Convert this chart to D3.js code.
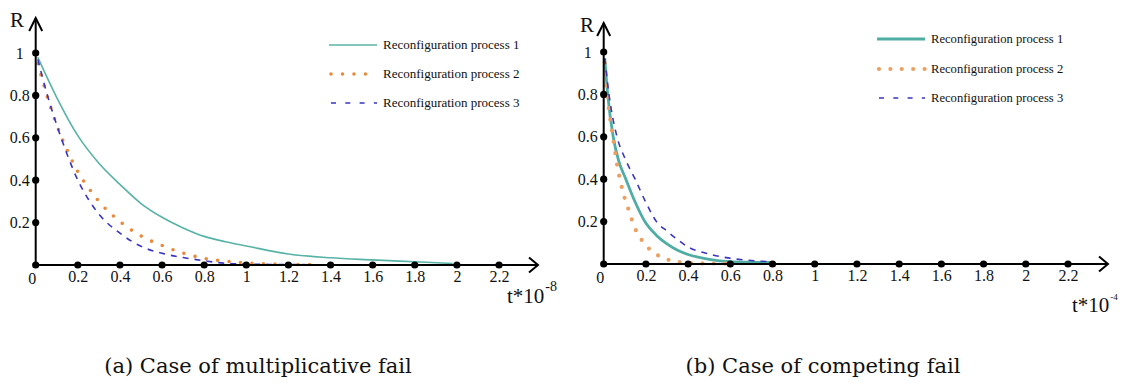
<!DOCTYPE html>
<html><head><meta charset="utf-8">
<script src="https://cdn.jsdelivr.net/npm/d3@7"></script>
<style>
html,body{margin:0;padding:0;background:#fff;}
svg{display:block;}
</style></head>
<body>
<svg id="chart" width="1127" height="385"></svg>
<script>
// ---------- data ----------
const seriesNames = ["Reconfiguration process 1","Reconfiguration process 2","Reconfiguration process 3"];
const xTicks = [0,0.2,0.4,0.6,0.8,1,1.2,1.4,1.6,1.8,2,2.2];
const xTickLabels = ["0","0.2","0.4","0.6","0.8","1","1.2","1.4","1.6","1.8","2","2.2"];
const yTicks = [0.2,0.4,0.6,0.8,1];
const yTickLabels = ["0.2","0.4","0.6","0.8","1"];
const captions = ["(a)  Case of multiplicative fail","(b)  Case of competing fail"];

// (a) multiplicative fail, t in units of 1e-8
const aP1x = [0.01,0.1,0.2,0.3,0.4,0.5,0.6,0.7,0.8,0.9,1.0,1.2,1.4,1.6,1.8,1.98];
const aP1y = [0.98,0.79,0.61,0.48,0.38,0.29,0.225,0.175,0.135,0.11,0.09,0.052,0.034,0.024,0.015,0.007];
const aP2x = [0.01,0.05,0.1,0.15,0.2,0.25,0.3,0.4,0.5,0.6,0.7,0.8,0.9,1.0,1.1,1.2,1.33];
const aP2y = [0.95,0.81,0.66,0.54,0.44,0.365,0.30,0.205,0.137,0.092,0.056,0.031,0.018,0.01,0.005,0.003,0.002];
const aP3x = [0.01,0.05,0.1,0.15,0.2,0.25,0.3,0.4,0.5,0.6,0.7,0.8,0.9,1.0,1.2,1.4];
const aP3y = [0.97,0.82,0.66,0.52,0.40,0.31,0.24,0.15,0.088,0.055,0.035,0.02,0.008,0.004,0.002,0.001];

// (b) competing fail, t in units of 1e-4
const bP1x = [0.005,0.019,0.045,0.07,0.105,0.15,0.195,0.25,0.3,0.35,0.4,0.5,0.6,0.7,0.8];
const bP1y = [0.97,0.8,0.6,0.49,0.4,0.29,0.2,0.135,0.095,0.065,0.045,0.022,0.011,0.008,0.007];
const bP2x = [0.005,0.015,0.03,0.045,0.065,0.09,0.12,0.15,0.19,0.25,0.3,0.35,0.45,0.6];
const bP2y = [0.95,0.82,0.69,0.59,0.46,0.345,0.25,0.165,0.10,0.045,0.022,0.01,0.003,0.002];
const bP3x = [0.005,0.025,0.063,0.1,0.149,0.2,0.25,0.3,0.35,0.4,0.48,0.58,0.68,0.8];
const bP3y = [0.97,0.8,0.6,0.5,0.4,0.29,0.2,0.155,0.115,0.08,0.052,0.03,0.018,0.01];

// ---------- layout ----------
const SERIF = "'Liberation Serif','Times New Roman',Times,'Nimbus Roman',serif";
const panels = [
  {x0:35.7, x1:499, y0:265, y1:53, arrowX:538, arrowY:18, expo:"-8",
   series:[[aP1x,aP1y],[aP2x,aP2y],[aP3x,aP3y]],
   teal:{w:1.6,c:"#58b3a6"}, orange:{c:"#e8893c",w:3.6,gap:11.5}, blue:{c:"#3a35c2",w:1.6},
   legX:329, legY:[45,74,103], legFont:13,
   rX:17, rY:27, xlabX:507, xlabY:303, supDx:1, supDy:-12, supSize:14,
   caption:{x:258,y:373}},
  {x0:603.7, x1:1068, y0:264, y1:52, arrowX:1108, arrowY:23, expo:"-4",
   series:[[bP1x,bP1y],[bP2x,bP2y],[bP3x,bP3y]],
   teal:{w:2.8,c:"#4fada3"}, orange:{c:"#eba060",w:4.2,gap:11.4}, blue:{c:"#3a35c2",w:1.6},
   legX:877, legY:[39,69,98], legFont:12.6,
   rX:587, rY:32, xlabX:1072, xlabY:312, supDx:1, supDy:-12, supSize:9,
   caption:{x:823,y:373}}
];

const svg = d3.select("#chart");

panels.forEach((p,pi)=>{
  const x = d3.scaleLinear().domain([0,2.2]).range([p.x0,p.x1]);
  const y = d3.scaleLinear().domain([0,1]).range([p.y0,p.y1]);
  const g = svg.append("g");

  // curves
  const line = d3.line().x(d=>x(d[0])).y(d=>y(d[1])).curve(d3.curveMonotoneX);
  const styles = [
    {stroke:p.teal.c, w:p.teal.w, dash:null, cap:"butt"},
    {stroke:p.orange.c, w:p.orange.w, dash:"0,"+p.orange.gap, cap:"round"},
    {stroke:p.blue.c, w:p.blue.w, dash:"6,6", cap:"butt"}
  ];
  p.series.forEach((s,i)=>{
    const pts = s[0].map((v,k)=>[v,s[1][k]]);
    g.append("path").attr("d",line(pts)).attr("fill","none")
      .attr("stroke",styles[i].stroke).attr("stroke-width",styles[i].w)
      .attr("stroke-dasharray",styles[i].dash).attr("stroke-linecap",styles[i].cap);
  });

  // axes lines
  g.append("line").attr("x1",x(0)).attr("x2",p.arrowX).attr("y1",y(0)).attr("y2",y(0))
    .attr("stroke","#000").attr("stroke-width",2);
  g.append("line").attr("x1",x(0)).attr("x2",x(0)).attr("y1",y(0)).attr("y2",p.arrowY)
    .attr("stroke","#000").attr("stroke-width",2);
  // arrowheads
  g.append("path").attr("d",`M${p.arrowX-9},${y(0)-7.5}L${p.arrowX},${y(0)}L${p.arrowX-9},${y(0)+7.5}`)
    .attr("fill","none").attr("stroke","#000").attr("stroke-width",2);
  g.append("path").attr("d",`M${x(0)-6.5},${p.arrowY+13}L${x(0)},${p.arrowY}L${x(0)+6.5},${p.arrowY+13}`)
    .attr("fill","none").attr("stroke","#000").attr("stroke-width",2);

  // x tick labels via axis
  const xAxis = d3.axisBottom(x).tickValues(xTicks).tickSize(0).tickPadding(0)
    .tickFormat((d,i)=>xTickLabels[i]);
  const xa = g.append("g").attr("transform",`translate(0,${y(0)})`).call(xAxis)
    .attr("font-family",null).attr("font-size",null);
  xa.select(".domain").remove();
  xa.selectAll("text").style("font-family",SERIF).style("font-size","16px")
    .attr("fill","#111").attr("dy","0.32em")
    .attr("dx",(d)=>d===0?-4:0).attr("y",d=>d===0?14:12);

  const yAxis = d3.axisLeft(y).tickValues(yTicks).tickSize(0).tickPadding(0)
    .tickFormat((d,i)=>yTickLabels[i]);
  const ya = g.append("g").attr("transform",`translate(${x(0)},0)`).call(yAxis)
    .attr("font-family",null).attr("font-size",null);
  ya.select(".domain").remove();
  ya.selectAll("text").style("font-family",SERIF).style("font-size","16px")
    .attr("fill","#111").attr("text-anchor","middle").attr("x",-16).attr("dy","0.32em");

  // tick dots
  g.selectAll(".xd").data(xTicks).join("circle").attr("cx",d=>x(d)).attr("cy",y(0)).attr("r",3.6).attr("fill","#000");
  g.selectAll(".yd").data(yTicks).join("circle").attr("cx",x(0)).attr("cy",d=>y(d)).attr("r",3.6).attr("fill","#000");

  // axis titles
  g.append("text").attr("x",p.rX).attr("y",p.rY).attr("text-anchor","middle")
    .style("font-family",SERIF).style("font-size","21px").attr("fill","#111").text("R");
  const xt = g.append("text").attr("x",p.xlabX).attr("y",p.xlabY)
    .style("font-family",SERIF).style("font-size","21px").attr("fill","#111");
  xt.append("tspan").text("t*10");
  xt.append("tspan").attr("dy",p.supDy).attr("dx",p.supDx).style("font-size",p.supSize+"px").text(p.expo);

  // legend
  p.legY.forEach((ly,i)=>{
    g.append("line").attr("x1",p.legX+ (i===0?0:2)).attr("x2",p.legX+48).attr("y1",ly).attr("y2",ly)
      .attr("stroke",styles[i].stroke).attr("stroke-width",styles[i].w)
      .attr("stroke-dasharray",i===2?"5,9.3":styles[i].dash).attr("stroke-linecap",styles[i].cap);
    g.append("text").attr("x",p.legX+54).attr("y",ly).attr("dy","0.33em")
      .style("font-family",SERIF).style("font-size",p.legFont+"px").attr("fill","#111").text(seriesNames[i]);
  });

  // caption
  g.append("text").attr("x",p.caption.x).attr("y",p.caption.y).attr("text-anchor","middle")
    .style("font-size","21px").style("font-family","'DejaVu Serif','Liberation Serif',serif")
    .attr("fill","#111").text(captions[pi]);
});
</script>
</body></html>
